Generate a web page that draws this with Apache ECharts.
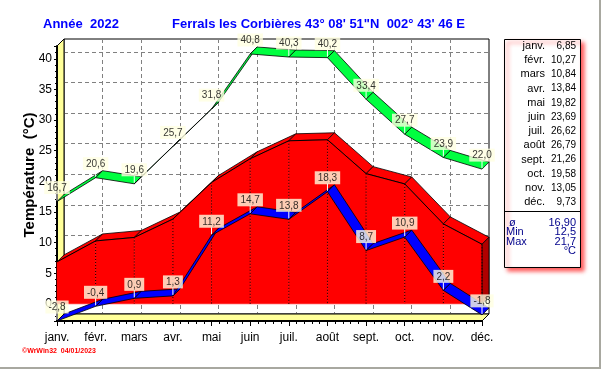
<!DOCTYPE html>
<html><head><meta charset="utf-8">
<script src="https://cdn.jsdelivr.net/npm/echarts@6/dist/echarts.min.js"></script>
<style>html,body{margin:0;padding:0;background:#fff}#c{width:603px;height:370px}</style>
</head><body><div id="c"></div>
<script>
const months = ['janv.','févr.','mars','avr.','mai','juin','juil.','août','sept.','oct.','nov.','déc.'];
const maxTemps = [16.7,20.6,19.6,25.7,31.8,40.8,40.3,40.2,33.4,27.7,23.9,22.0];
const minTemps = [-2.8,-0.4,0.9,1.3,11.2,14.7,13.8,18.3,8.7,10.9,2.2,-1.8];
const meanTemps = [6.85,10.27,10.84,13.84,19.82,23.69,26.62,26.79,21.26,19.58,13.05,9.73];
const yTickLabels = [0,5,10,15,20,25,30,35,40];
const statLabels = ['ø','Min','Max'];
const statValues = ['16,90','12,5','21,7'];
const unitLabel = '°C';
const titleLeft = 'Année  2022';
const titleRight = 'Ferrals les Corbières 43° 08\' 51"N  002° 43\' 46 E';
const yTitle = 'Température  (°C)';
const footer = '©WrWin32  04/01/2023';

const D = 7;
const Y_MIN = -2.8, Y_MAX = 42.1;
const FONT = '"Liberation Sans", Arial, sans-serif';
const fmt = (v, d) => v.toFixed(d).replace('.', ',');
const segData = vals => vals.map((v, i) => [i, v, i < vals.length - 1 ? vals[i + 1] : v]);

function ribbon(color) {
  return function (params, api) {
    const i = api.value(0);
    const p = api.coord([i, api.value(1)]);
    const ch = [];
    if (i < months.length - 1) {
      const q = api.coord([i + 1, api.value(2)]);
      ch.push({type: 'polygon', shape: {points: [p, q, [q[0] + D, q[1] - D], [p[0] + D, p[1] - D]]},
        style: {fill: color, stroke: '#000', lineWidth: 0.8}});
    }
    ch.push({type: 'line', shape: {x1: p[0], y1: p[1] - 1, x2: p[0], y2: p[1] - 8}, style: {stroke: '#fff', lineWidth: 1}});
    return {type: 'group', children: ch};
  };
}

function areaRender(params, api) {
  const i = api.value(0);
  const p = api.coord([i, api.value(1)]), z = api.coord([i, 0]);
  const ch = [];
  if (i < months.length - 1) {
    const q = api.coord([i + 1, api.value(2)]), zq = api.coord([i + 1, 0]);
    ch.push({type: 'polygon', shape: {points: [p, q, [q[0] + D, q[1] - D], [p[0] + D, p[1] - D]]},
      style: {fill: '#ff0000', stroke: '#000', lineWidth: 0.8}});
    ch.push({type: 'polygon', shape: {points: [p, q, zq, z]}, style: {fill: '#ff0000', stroke: '#ff0000', lineWidth: 0.5}});
    ch.push({type: 'line', shape: {x1: p[0], y1: p[1], x2: q[0], y2: q[1]}, style: {stroke: '#000', lineWidth: 1}});
  } else {
    ch.push({type: 'polygon', shape: {points: [p, [p[0] + D, p[1] - D], [z[0] + D, z[1] - D], z]},
      style: {fill: '#b00000', stroke: '#000', lineWidth: 0.8}});
  }
  if (i > 0) ch.push({type: 'line', shape: {x1: p[0], y1: p[1], x2: z[0], y2: z[1]}, style: {stroke: '#000', lineWidth: 1, lineDash: [1, 2]}});
  return {type: 'group', children: ch};
}

function frameRender(params, api) {
  const a = api.coord([0, Y_MIN]), b = api.coord([months.length - 1, Y_MIN]), c = api.coord([0, Y_MAX]);
  return {type: 'group', children: [
    {type: 'polygon', shape: {points: [a, b, [b[0] + D, b[1] - D], [a[0] + D, a[1] - D]]}, style: {fill: '#ffff99', stroke: '#000', lineWidth: 1}},
    {type: 'polygon', shape: {points: [a, [a[0] + D, a[1] - D], [c[0] + D, c[1] - D], c]}, style: {fill: '#ffff99', stroke: '#000', lineWidth: 1}}
  ]};
}

const labelCfg = {
  show: true, position: 'top', distance: 7,
  formatter: p => fmt(p.value[1], 1),
  backgroundColor: '#ffffe1', color: '#000', fontSize: 10, fontFamily: FONT,
  padding: [2, 3, 1, 3], lineHeight: 10
};

const graphic = [];
graphic.push({type: 'text', x: 43, y: 24, style: {text: titleLeft, font: 'bold 13px ' + FONT, fill: '#0000ff', textVerticalAlign: 'middle'}});
graphic.push({type: 'text', x: 172, y: 24, style: {text: titleRight, font: 'bold 13px ' + FONT, fill: '#0000ff', textVerticalAlign: 'middle'}});
graphic.push({type: 'text', x: 30, y: 175, rotation: Math.PI / 2, style: {text: yTitle, font: 'bold 15px ' + FONT, fill: '#000', textAlign: 'center', textVerticalAlign: 'middle'}});
graphic.push({type: 'text', x: 22, y: 351, style: {text: footer, font: 'bold 7px ' + FONT, fill: '#ff0000', textVerticalAlign: 'middle'}});
graphic.push({type: 'line', shape: {x1: 600, y1: 0, x2: 600, y2: 369}, style: {stroke: '#a8a8a0', lineWidth: 2}});
graphic.push({type: 'line', shape: {x1: 0, y1: 368, x2: 601, y2: 368}, style: {stroke: '#a8a8a0', lineWidth: 2}});
graphic.push({type: 'rect', shape: {x: 504.5, y: 39.5, width: 76, height: 228},
  style: {fill: '#fff', stroke: '#000', lineWidth: 1, shadowColor: 'rgba(255,40,40,0.75)', shadowBlur: 4, shadowOffsetX: 3, shadowOffsetY: 3}});
graphic.push({type: 'line', shape: {x1: 504.5, y1: 211.5, x2: 580.5, y2: 211.5}, style: {stroke: '#000', lineWidth: 1}});
months.forEach((m, i) => {
  const y = 46 + i * 14.2;
  graphic.push({type: 'text', x: 545, y, style: {text: m, font: '11px ' + FONT, fill: '#000', textAlign: 'right', textVerticalAlign: 'middle'}});
  graphic.push({type: 'text', x: 576, y, style: {text: fmt(meanTemps[i], 2), font: '10px ' + FONT, fill: '#000', textAlign: 'right', textVerticalAlign: 'middle'}});
});
statLabels.forEach((s, i) => {
  const y = 223 + i * 9.3;
  graphic.push({type: 'text', x: s === 'ø' ? 509 : 506, y, style: {text: s, font: '11px ' + FONT, fill: '#00008b', textVerticalAlign: 'middle'}});
  graphic.push({type: 'text', x: 576, y, style: {text: statValues[i], font: '11px ' + FONT, fill: '#00008b', textAlign: 'right', textVerticalAlign: 'middle'}});
});
graphic.push({type: 'text', x: 576, y: 251, style: {text: unitLabel, font: '11px ' + FONT, fill: '#00008b', textAlign: 'right', textVerticalAlign: 'middle'}});

const chart = echarts.init(document.getElementById('c'), null, {renderer: 'canvas'});
chart.setOption({
  animation: false,
  backgroundColor: '#fff',
  grid: [
    {left: 57, top: 46, width: 425, height: 275, outerBoundsMode: 'none', containLabel: false},
    {left: 64, top: 39, width: 425, height: 275, show: true, borderColor: '#000', borderWidth: 1, backgroundColor: '#fff', outerBoundsMode: 'none', containLabel: false}
  ],
  xAxis: [
    {gridIndex: 0, type: 'value', min: 0, max: 11, interval: 1, z: 2,
      axisLine: {show: true, onZero: false, lineStyle: {color: '#000', width: 2}},
      axisTick: {show: true, length: 5, lineStyle: {color: '#000'}},
      minorTick: {show: true, splitNumber: 5, length: 3, lineStyle: {color: '#000'}},
      axisLabel: {formatter: v => months[v] || '', color: '#000', fontSize: 12, fontFamily: FONT, margin: 11},
      splitLine: {show: false}},
    {gridIndex: 1, type: 'value', min: 0, max: 11, interval: 1,
      axisLine: {show: false}, axisTick: {show: false}, axisLabel: {show: false},
      splitLine: {show: true, showMinLine: false, showMaxLine: false, lineStyle: {color: '#808080', type: [4, 3], width: 1}}}
  ],
  yAxis: [
    {gridIndex: 0, type: 'value', min: Y_MIN, max: Y_MAX, splitNumber: 9, z: 2,
      axisLine: {show: true, onZero: false, lineStyle: {color: '#000', width: 2}},
      axisTick: {show: true, length: 3, lineStyle: {color: '#000'}},
      minorTick: {show: true, splitNumber: 5, length: 2, lineStyle: {color: '#000'}},
      axisLabel: {formatter: v => yTickLabels.includes(v) ? String(v) : '', color: '#000', fontSize: 12, fontFamily: FONT, margin: 5},
      splitLine: {show: false}},
    {gridIndex: 1, type: 'value', min: Y_MIN, max: Y_MAX, splitNumber: 9,
      axisLine: {show: false}, axisTick: {show: false}, axisLabel: {show: false},
      splitLine: {show: true, showMinLine: false, showMaxLine: false, lineStyle: {color: '#808080', type: [4, 3], width: 1}}}
  ],
  graphic: graphic,
  series: [
    {type: 'custom', xAxisIndex: 0, yAxisIndex: 0, z: 1, clip: false, silent: true, data: [[0, 0]], renderItem: frameRender},
    {type: 'custom', name: 'moyenne', xAxisIndex: 0, yAxisIndex: 0, z: 3, clip: false, silent: true, data: segData(meanTemps), renderItem: areaRender},
    {type: 'custom', name: 'min', xAxisIndex: 0, yAxisIndex: 0, z: 4, clip: false, silent: true, data: segData(minTemps), renderItem: ribbon('#0000ff')},
    {type: 'custom', name: 'max', xAxisIndex: 0, yAxisIndex: 0, z: 5, clip: false, silent: true, data: segData(maxTemps), renderItem: ribbon('#00ff40')},
    {type: 'scatter', xAxisIndex: 0, yAxisIndex: 0, z: 10, silent: true, symbolSize: 1, itemStyle: {color: 'rgba(0,0,0,0)'},
      data: minTemps.map((v, i) => [i, v]), label: labelCfg},
    {type: 'scatter', xAxisIndex: 0, yAxisIndex: 0, z: 10, silent: true, symbolSize: 1, itemStyle: {color: 'rgba(0,0,0,0)'},
      data: maxTemps.map((v, i) => [i, v]), label: labelCfg}
  ]
});
</script></body></html>
